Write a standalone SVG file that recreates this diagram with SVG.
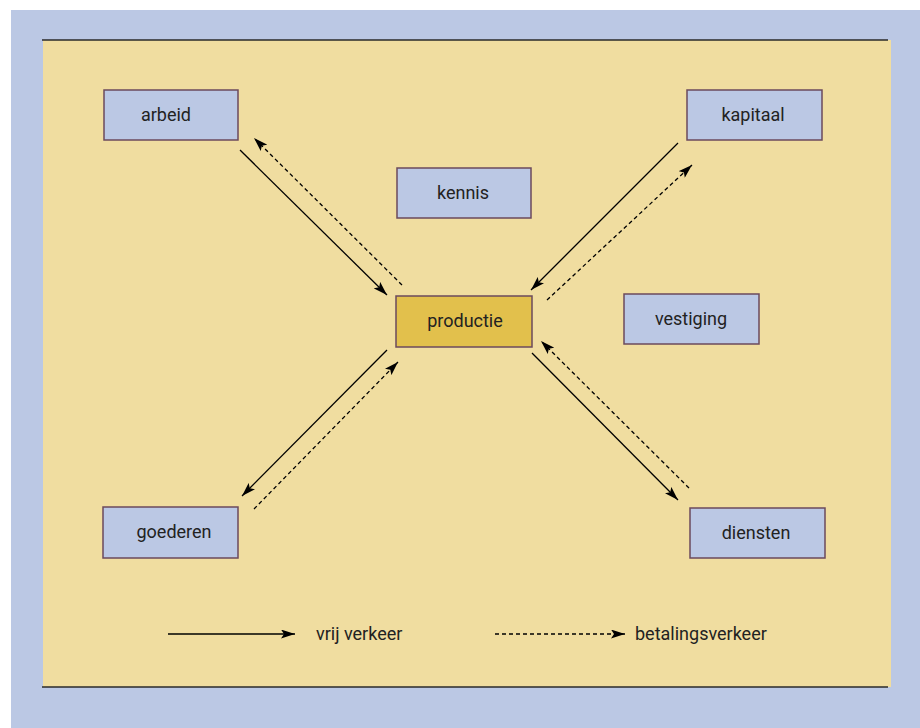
<svg xmlns="http://www.w3.org/2000/svg" width="920" height="728" viewBox="0 0 920 728">
<style>
.box{fill:#BBC8E4;stroke:#6B4A5C;stroke-width:1.5}
.prod{fill:#E2C04C;stroke:#6B4A5C;stroke-width:1.5}
.lbl{font-family:Roboto,"Liberation Sans",sans-serif;font-size:18px;fill:#222222;text-anchor:middle}
.leg{font-family:Roboto,"Liberation Sans",sans-serif;font-size:18px;fill:#222222}
.solid{stroke:#000;stroke-width:1.3;fill:none;marker-end:url(#ah)}
.dash{stroke:#000;stroke-width:1.3;fill:none;stroke-dasharray:4,3;marker-end:url(#ah)}
</style>
<defs>
<marker id="ah" viewBox="0 0 14 9" refX="14" refY="4.5" markerWidth="14" markerHeight="9" markerUnits="userSpaceOnUse" orient="auto">
<path d="M0,0 L14,4.5 L0,9 L3,4.5 Z" fill="#000"/>
</marker>
</defs>
<rect x="0" y="0" width="920" height="728" fill="#FFFFFF"/>
<rect x="11" y="10" width="909" height="718" fill="#BBC8E4"/>
<rect x="43" y="40" width="848" height="647" fill="#F0DDA0"/>
<line x1="42" y1="40" x2="888" y2="40" stroke="#2A2A2A" stroke-width="1.5"/>
<line x1="42" y1="687" x2="888" y2="687" stroke="#2A2A2A" stroke-width="1.5"/>
<g id="arbeid"><rect class="box" x="104" y="90" width="134" height="50"/><text class="lbl" x="166" y="121">arbeid</text></g>
<g id="kapitaal"><rect class="box" x="687" y="90" width="135" height="50"/><text class="lbl" x="753" y="121">kapitaal</text></g>
<g id="kennis"><rect class="box" x="397" y="168" width="134" height="50"/><text class="lbl" x="463" y="199">kennis</text></g>
<g id="productie"><rect class="prod" x="396" y="296" width="136" height="51"/><text class="lbl" x="465" y="327">productie</text></g>
<g id="vestiging"><rect class="box" x="624" y="294" width="135" height="50"/><text class="lbl" x="691" y="325">vestiging</text></g>
<g id="goederen"><rect class="box" x="103" y="507" width="135" height="51"/><text class="lbl" x="174" y="538">goederen</text></g>
<g id="diensten"><rect class="box" x="690" y="508" width="135" height="50"/><text class="lbl" x="756" y="539">diensten</text></g>
<g id="connectors">
<line class="solid" x1="240" y1="150" x2="387" y2="295"/>
<line class="dash" x1="402" y1="285" x2="254" y2="138"/>
<line class="solid" x1="678" y1="143" x2="531" y2="290"/>
<line class="dash" x1="547" y1="300" x2="692" y2="165"/>
<line class="solid" x1="387" y1="350" x2="242" y2="496"/>
<line class="dash" x1="254" y1="509" x2="398" y2="362"/>
<line class="solid" x1="532" y1="353" x2="678" y2="500"/>
<line class="dash" x1="689" y1="488" x2="541" y2="341"/>
<line class="solid" x1="168" y1="634" x2="295" y2="634"/>
<line class="dash" x1="495" y1="634" x2="625" y2="634"/>
</g>
<text class="leg" x="316" y="640">vrij verkeer</text>
<text class="leg" x="635" y="640">betalingsverkeer</text>
</svg>
